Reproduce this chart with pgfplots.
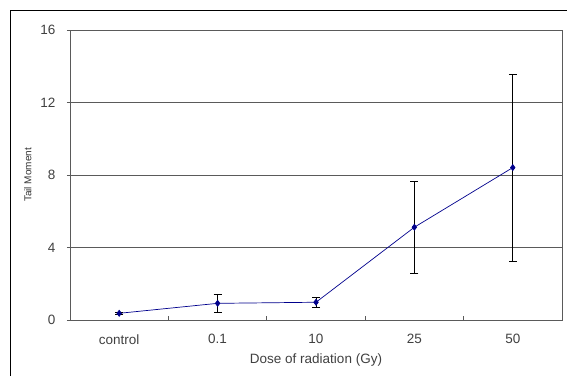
\documentclass[border=0pt]{standalone}
\usepackage{pgfplots}
\pgfplotsset{compat=1.18}
\usepackage{fontspec}
\setmainfont{Liberation Sans}
\definecolor{navyline}{RGB}{0,0,140}
\definecolor{gridc}{RGB}{90,90,90}
\begin{document}
\begin{tikzpicture}
\useasboundingbox (0pt,0pt) rectangle (567pt,-376pt);
\draw[black, line width=0.8pt] (10pt,-376pt) -- (10pt,-10pt) -- (567pt,-10pt);
\begin{axis}[
  at={(70pt,-320pt)}, anchor=south west,
  scale only axis, width=492pt, height=290pt,
  xmin=-0.5, xmax=4.5, ymin=0, ymax=16,
  xtick={0,1,2,3,4},
  xticklabels={control,0.1,10,25,50},
  minor xtick={0.5,1.5,2.5,3.5},
  major x tick style={draw=none},
  minor tick length=4pt,
  ytick={0,4,8,12,16},
  ytick style={gridc},
  major tick length=3pt,
  tick pos=left,
  xtick align=inside,
  ytick align=outside,
  minor x tick style={gridc, line width=0.8pt},
  ymajorgrids,
  grid style={gridc, line width=0.8pt},
  axis line style={gridc, line width=0.8pt},
  /pgf/number format/assume math mode=true,
  tick label style={font=\fontsize{13.5}{15}\selectfont, text=black!75},
  xticklabel style={yshift=-11pt},
  yticklabel style={xshift=-8pt},
  xlabel={Dose of radiation (Gy)},
  xlabel style={font=\fontsize{13.5}{15}\selectfont, text=black!75, yshift=-2pt},
  ylabel={Tail Moment},
  ylabel style={font=\fontsize{10}{11}\selectfont, text=black!80, yshift=2pt},
  clip=false,
]
\addplot[navyline, line width=0.7pt, mark=diamond*, mark size=3pt,
  mark options={fill=navyline, draw=navyline},
  error bars/.cd, y dir=both, y explicit,
  error bar style={black, line width=0.7pt},
  error mark options={rotate=90, mark size=4pt, black, line width=0.7pt}]
  coordinates {
  (0,0.37) +- (0,0.08)
  (1,0.92) +- (0,0.5)
  (2,0.98) +- (0,0.29)
  (3,5.12) +- (0,2.54)
  (4,8.41) +- (0,5.17)
  };
\end{axis}
\end{tikzpicture}
\end{document}
